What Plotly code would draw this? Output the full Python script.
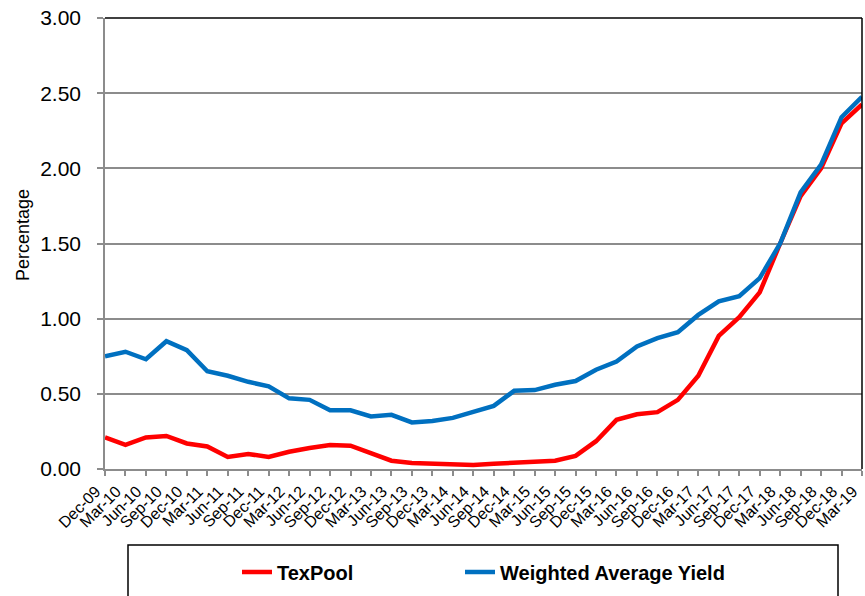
import plotly.graph_objects as go

quarters = ["Dec-09", "Mar-10", "Jun-10", "Sep-10", "Dec-10", "Mar-11", "Jun-11", "Sep-11",
            "Dec-11", "Mar-12", "Jun-12", "Sep-12", "Dec-12", "Mar-13", "Jun-13", "Sep-13",
            "Dec-13", "Mar-14", "Jun-14", "Sep-14", "Dec-14", "Mar-15", "Jun-15", "Sep-15",
            "Dec-15", "Mar-16", "Jun-16", "Sep-16", "Dec-16", "Mar-17", "Jun-17", "Sep-17",
            "Dec-17", "Mar-18", "Jun-18", "Sep-18", "Dec-18", "Mar-19"]

texpool = [0.21, 0.16, 0.21, 0.22, 0.17, 0.15, 0.08, 0.10, 0.08, 0.115, 0.14, 0.16, 0.155,
           0.105, 0.055, 0.04, 0.038, 0.03, 0.027, 0.035, 0.04, 0.047, 0.055, 0.087, 0.185,
           0.327, 0.364, 0.378, 0.46, 0.62, 0.885, 1.01, 1.175, 1.50, 1.815, 2.0, 2.30, 2.425]

weighted_avg = [0.75, 0.78, 0.73, 0.85, 0.79, 0.65, 0.62, 0.58, 0.55, 0.47, 0.46, 0.39, 0.39,
                0.35, 0.36, 0.31, 0.32, 0.34, 0.38, 0.42, 0.52, 0.525, 0.56, 0.585, 0.66,
                0.715, 0.815, 0.87, 0.91, 1.025, 1.115, 1.15, 1.27, 1.50, 1.84, 2.025, 2.34, 2.475]

y_ticks = [0, 0.5, 1.0, 1.5, 2.0, 2.5, 3.0]

FONT = "Liberation Sans, Arial, sans-serif"

# figure fills the 865x596 window; the page's default body margin is removed
W, H = 865, 596
ml, mt = 105, 18
mr = W - 862
mb = H - 469
pw = W - ml - mr
ph = H - mt - mb

def px2x(px):
    return (px - ml) / pw

def py2y(py):
    return (H - mb - py) / ph

fig = go.Figure()
fig.add_trace(go.Scatter(x=quarters, y=texpool, mode="lines", name="<b>TexPool</b>",
                         line=dict(color="#FF0000", width=4.5), legend="legend"))
fig.add_trace(go.Scatter(x=quarters, y=weighted_avg, mode="lines", name="<b>Weighted Average Yield</b>",
                         line=dict(color="#0070C0", width=4.5), legend="legend2"))

leg_common = dict(orientation="h", yanchor="middle", xanchor="left",
                  font=dict(size=20, family=FONT, color="black"),
                  bgcolor="rgba(0,0,0,0)", borderwidth=0)

fig.update_layout(
    width=W, height=H,
    margin=dict(l=ml, r=mr, t=mt, b=mb, autoexpand=False),
    paper_bgcolor="white", plot_bgcolor="white",
    font=dict(family=FONT, color="black"),
    showlegend=True,
    legend=dict(x=px2x(237), y=py2y(572), **leg_common),
    legend2=dict(x=px2x(460), y=py2y(572), **leg_common),
    xaxis=dict(type="category", range=[0, len(quarters) - 1], showgrid=False,
               showline=True, linecolor="#8C8C8C", linewidth=1.5,
               ticks="outside", ticklen=5, tickcolor="#8C8C8C", tickwidth=1.5,
               tickangle=-45, tickfont=dict(size=16, family=FONT, color="black"),
               ticklabelshift=-9, ticklabeloverflow="allow",
               zeroline=False),
    yaxis=dict(range=[0, 3], tickvals=y_ticks, tickformat=".2f", showgrid=True,
               gridcolor="#8C8C8C", gridwidth=1.5,
               showline=True, linecolor="#8C8C8C", linewidth=1.5,
               ticks="outside", ticklen=6, tickcolor="#8C8C8C", tickwidth=1.5,
               ticklabelstandoff=12, ticklabeloverflow="allow",
               tickfont=dict(size=21, family=FONT, color="black"),
               zeroline=False),
    annotations=[
        dict(text="Percentage", xref="paper", yref="paper", x=px2x(23), y=py2y(235),
             xanchor="center", yanchor="middle", textangle=-90, showarrow=False,
             font=dict(size=18, family=FONT, color="black")),
    ],
    shapes=[
        dict(type="line", xref="paper", yref="paper", x0=0, x1=1, y0=1, y1=1,
             line=dict(color="black", width=1.5)),
        dict(type="line", xref="paper", yref="paper", x0=1, x1=1, y0=0, y1=1,
             line=dict(color="black", width=1.5)),
        dict(type="rect", xref="paper", yref="paper", x0=px2x(128), x1=px2x(838),
             y0=py2y(545), y1=py2y(605), line=dict(color="black", width=1.5),
             fillcolor="rgba(0,0,0,0)", layer="below"),
    ],
)

fig.write_html("out.html", config={"displayModeBar": False},
               post_script="document.body.style.margin='0';document.body.style.overflow='hidden';")
